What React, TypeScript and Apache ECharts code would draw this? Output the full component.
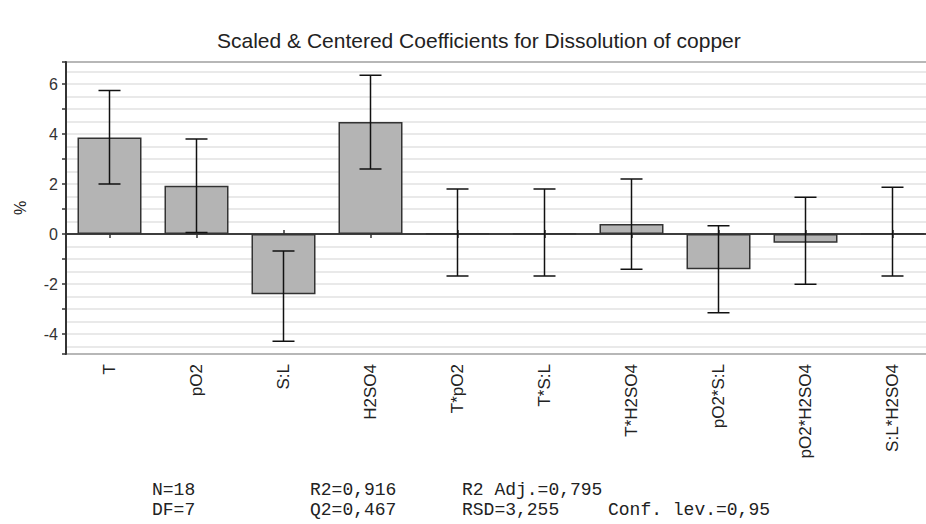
import React, { useEffect, useRef } from "react";
import * as echarts from "echarts";

const categories = ["T", "pO2", "S:L", "H2SO4", "T*pO2", "T*S:L", "T*H2SO4", "pO2*S:L", "pO2*H2SO4", "S:L*H2SO4"];
const coefficients = [3.86, 1.93, -2.41, 4.48, 0.03, 0.03, 0.4, -1.41, -0.35, 0.03];
const ciLow = [2.0, 0.06, -4.29, 2.6, -1.68, -1.68, -1.41, -3.15, -2.01, -1.68];
const ciHigh = [5.74, 3.8, -0.68, 6.35, 1.8, 1.8, 2.2, 0.33, 1.47, 1.87];
const yMin = -4.8;
const yMax = 6.88;
const titleText = "Scaled & Centered Coefficients for Dissolution of copper";
const yName = "%";
const statsRow1 = ["N=18", "R2=0,916", "R2 Adj.=0,795"];
const statsRow2 = ["DF=7", "Q2=0,467", "RSD=3,255", "Conf. lev.=0,95"];

export default function App() {
  const ref = useRef<HTMLDivElement>(null);

  useEffect(() => {
    if (!ref.current) return;
    const chart = echarts.init(ref.current, undefined, { renderer: "svg" });
    const sans = "'Liberation Sans', Arial, sans-serif";
    const mono = "'Liberation Mono', 'Courier New', monospace";
    const colX = [152, 310, 462, 608];
    const rowY = [490, 510];
    const statsGraphics: any[] = [];
    [statsRow1, statsRow2].forEach((row, r) => {
      row.forEach((t, c) => {
        statsGraphics.push({
          type: "text",
          x: colX[c],
          y: rowY[r],
          style: {
            text: t,
            font: `18px ${mono}`,
            fill: "#222",
            textVerticalAlign: "middle",
          },
        });
      });
    });

    const option: any = {
      animation: false,
      backgroundColor: "#fff",
      title: {
        text: titleText,
        left: 212,
        top: 25,
        textStyle: { fontFamily: sans, fontSize: 21, fontWeight: "normal", color: "#222" },
      },
      grid: {
        left: 66,
        top: 62,
        width: 870,
        height: 292,
        show: true,
        borderColor: "#3a3a3a",
        borderWidth: 2,
        backgroundColor: "#fff",
        containLabel: false,
        outerBoundsMode: "none",
      },
      xAxis: [
        {
          type: "category",
          data: categories,
          position: "bottom",
          boundaryGap: true,
          axisLine: { show: false, onZero: false },
          axisTick: { show: false },
          axisLabel: { rotate: 90, fontSize: 17, fontFamily: sans, color: "#222", margin: 10, interval: 0 },
          splitLine: { show: false },
        },
        {
          type: "category",
          data: categories,
          position: "bottom",
          boundaryGap: true,
          axisLine: { show: true, onZero: true, onZeroAxisIndex: 0, lineStyle: { color: "#333", width: 1.5 } },
          axisTick: { show: true, alignWithLabel: true, length: 4, lineStyle: { color: "#333", width: 1.5 } },
          axisLabel: { show: false },
          splitLine: { show: false },
        },
        {
          type: "category",
          data: categories,
          position: "top",
          boundaryGap: true,
          axisLine: { show: true, onZero: true, onZeroAxisIndex: 0, lineStyle: { color: "#333", width: 1.5 } },
          axisTick: { show: true, alignWithLabel: true, length: 4, lineStyle: { color: "#333", width: 1.5 } },
          axisLabel: { show: false },
          splitLine: { show: false },
        },
      ],
      yAxis: [
        {
          type: "value",
          min: yMin,
          max: yMax,
          splitNumber: 12,
          minInterval: 1,
          maxInterval: 1,
          position: "left",
          name: yName,
          nameLocation: "middle",
          nameGap: 38,
          nameRotate: 90,
          nameTextStyle: { fontFamily: sans, fontSize: 16, color: "#222" },
          axisLine: { show: true, lineStyle: { color: "#333", width: 2 } },
          axisTick: { show: true, length: 4, lineStyle: { color: "#333", width: 1.5 } },
          axisLabel: {
            fontFamily: sans,
            fontSize: 16,
            color: "#333",
            margin: 8,
            formatter: (v: number) => {
              const r = Math.round(v);
              return Math.abs(v - r) < 1e-6 && r % 2 === 0 ? String(r) : "";
            },
          },
          splitLine: { show: false },
        },
        {
          type: "value",
          min: yMin,
          max: yMax,
          splitNumber: 24,
          minInterval: 0.5,
          maxInterval: 0.5,
          position: "left",
          axisLine: { show: false },
          axisTick: { show: false },
          axisLabel: { show: false },
          splitLine: { show: true, lineStyle: { color: "#e2e2e2", width: 1.5 } },
        },
      ],
      series: [
        {
          type: "bar",
          xAxisIndex: 0,
          yAxisIndex: 0,
          data: coefficients,
          barWidth: 64,
          itemStyle: { color: "#b4b4b4", borderColor: "#333", borderWidth: 1.5 },
          z: 3,
        },
        {
          type: "custom",
          xAxisIndex: 0,
          yAxisIndex: 0,
          data: categories.map((_, i) => [i, ciLow[i], ciHigh[i]]),
          encode: { x: 0, y: [1, 2] },
          z: 4,
          renderItem: (params: any, api: any) => {
            const i = api.value(0);
            const lo = api.coord([i, api.value(1)]);
            const hi = api.coord([i, api.value(2)]);
            const cap = 11;
            const style = { stroke: "#111", lineWidth: 1.5 };
            return {
              type: "group",
              children: [
                { type: "line", shape: { x1: lo[0], y1: lo[1], x2: hi[0], y2: hi[1] }, style },
                { type: "line", shape: { x1: hi[0] - cap, y1: hi[1], x2: hi[0] + cap, y2: hi[1] }, style },
                { type: "line", shape: { x1: lo[0] - cap, y1: lo[1], x2: lo[0] + cap, y2: lo[1] }, style },
              ],
            };
          },
        },
      ],
      graphic: statsGraphics,
    };
    chart.setOption(option);
    return () => chart.dispose();
  }, []);

  return (
    <div
      ref={ref}
      style={{ position: "fixed", left: 0, top: 0, width: 926, height: 524, background: "#fff" }}
    />
  );
}
